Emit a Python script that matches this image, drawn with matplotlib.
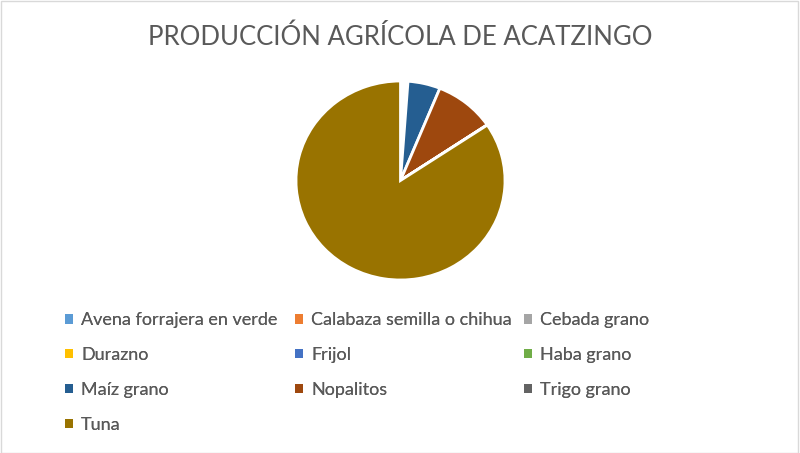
import matplotlib
matplotlib.use("Agg")
import matplotlib.pyplot as plt
from matplotlib.patches import Rectangle, Patch

categories = ["Avena forrajera en verde", "Calabaza semilla o chihua", "Cebada grano",
              "Durazno", "Frijol", "Haba grano", "Maíz grano", "Nopalitos",
              "Trigo grano", "Tuna"]
values = [0.4, 0.05, 0.1, 0.1, 0.4, 0.1, 5.0, 9.4, 0.05, 84.4]
colors = ["#5B9BD5", "#ED7D31", "#A5A5A5", "#FFC000", "#4472C4", "#70AD47",
          "#255E91", "#9E480E", "#636363", "#997300"]
title = "PRODUCCIÓN AGRÍCOLA DE ACATZINGO"

plt.rcParams['font.family'] = ['Lato', 'DejaVu Sans']
fig = plt.figure(figsize=(8, 4.53), dpi=100)
fig.patches.append(Rectangle((0.001, 0.001), 0.997, 0.996, transform=fig.transFigure,
                             fill=False, edgecolor="#D9D9D9", linewidth=1))

ax = fig.add_axes([0.37, 0.3819, 0.26125, 0.4393])
wedges, _ = ax.pie(values, colors=colors, startangle=90, counterclock=False,
                   radius=1, wedgeprops=dict(edgecolor="white", linewidth=2))
ax.set_aspect("auto")
ax.set_xlim(-1.0, 1.0)
ax.set_ylim(-1.0, 1.0)
ax.axis("off")

fig.text(0.5, 0.918, title, ha="center", va="center", fontsize=18.5, color="#595959")

# legend laid out row-major in three equal-width columns
col_x = [0.081, 0.369, 0.655]
for c in range(3):
    idx = list(range(c, len(categories), 3))
    handles = [Patch(facecolor=colors[i], edgecolor="none") for i in idx]
    labels = [categories[i] for i in idx]
    leg = fig.legend(handles, labels, ncol=1, loc="upper left",
                     bbox_to_anchor=(col_x[c], 0.311),
                     frameon=False, fontsize=13, labelcolor="#595959",
                     handlelength=0.45, handleheight=0.45, handletextpad=0.45,
                     labelspacing=1.05, borderaxespad=0, borderpad=0)
    fig.add_artist(leg)

fig.savefig("out.png", dpi=100)
